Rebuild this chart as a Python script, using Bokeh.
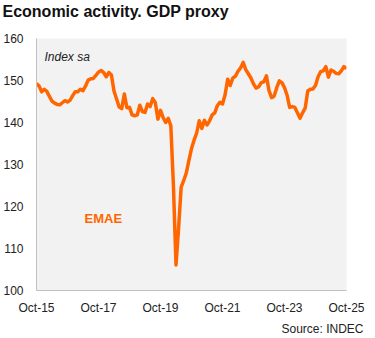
from bokeh.plotting import figure
from bokeh.models import Label, FixedTicker, Range1d, Title
from bokeh.embed import file_html
from bokeh.resources import INLINE

# Monthly EMAE (seasonally adjusted index), Oct-2015 .. Oct-2025
emae = [
    149.3, 148.7, 147.3, 147.9, 147.4, 146.2, 145.1, 144.6, 144.3, 144.2,
    144.7, 145.2, 144.9, 145.3, 146.4, 147.3, 147.3, 147.9, 147.6, 148.7,
    150.1, 150.4, 150.5, 151.2, 152.0, 152.4, 151.9, 150.9, 151.9, 151.3,
    147.5, 145.6, 143.7, 143.3, 146.8, 143.5, 143.6, 141.8, 141.6, 141.8,
    144.1, 142.6, 142.4, 144.4, 143.8, 145.7, 144.7, 140.8, 142.9, 141.2,
    140.0, 141.0, 139.2, 125.0, 106.1, 114.8, 124.6, 126.2, 128.0, 131.0,
    133.8, 135.8, 137.5, 140.4, 138.6, 140.5, 139.4, 140.4, 141.8, 142.3,
    144.0, 144.8, 144.4, 146.6, 150.3, 148.8, 150.6, 151.0, 152.2, 153.0,
    154.3, 152.6, 151.6, 150.6, 149.2, 148.2, 148.5, 149.5, 149.7, 151.1,
    147.6, 145.9, 146.3, 148.3, 149.9, 149.5, 148.3, 146.5, 143.6, 143.8,
    143.6, 142.3, 141.0, 142.3, 143.4, 147.5, 147.9, 148.0, 148.8, 150.9,
    152.1, 152.3, 153.3, 150.8, 152.5, 152.2, 151.7, 151.6, 152.3, 153.3,
    152.8,
]
months = list(range(len(emae)))
x_tick_pos = [0, 24, 48, 72, 96, 120]
x_tick_labels = ["Oct-15", "Oct-17", "Oct-19", "Oct-21", "Oct-23", "Oct-25"]
y_ticks = [100, 110, 120, 130, 140, 150, 160]

W, H = 375, 338
L, R, T, B = 36, 29, 0, 46

p = figure(width=W, height=H, output_backend="svg", toolbar_location=None, title=None,
           x_range=Range1d(0, 120), y_range=Range1d(100, 160),
           min_border_left=L, min_border_right=R, min_border_top=T, min_border_bottom=B)
p.background_fill_color = "#f2f2f2"
p.border_fill_color = "white"
p.outline_line_color = None
p.xgrid.grid_line_color = None
p.ygrid.grid_line_color = None

p.line(months, emae, line_color="#ff6600", line_width=3.5, line_join="round")

axis_color = "#c0c0c0"
for ax in (p.xaxis[0], p.yaxis[0]):
    ax.axis_line_color = axis_color
    ax.major_tick_line_color = None
    ax.minor_tick_line_color = None
    ax.major_tick_out = 0
    ax.major_tick_in = 0
    ax.major_label_text_font = "Liberation Sans"
    ax.major_label_text_font_size = "12px"
    ax.major_label_text_color = "#222222"

p.yaxis[0].ticker = FixedTicker(ticks=y_ticks)
p.yaxis[0].major_label_standoff = 13
p.xaxis[0].ticker = FixedTicker(ticks=x_tick_pos)
p.xaxis[0].major_label_overrides = {k: v for k, v in zip(x_tick_pos, x_tick_labels)}
p.xaxis[0].major_label_standoff = 10

# spacer between frame and title (nearest the frame), then the title above it
p.add_layout(Title(text=" ", text_font_size="1px", standoff=16), "above")
p.add_layout(Title(text="Economic activity. GDP proxy", text_font="Liberation Sans",
                   text_font_size="16px", text_font_style="bold", text_color="#111111",
                   align="left", offset=-34, standoff=0), "above")
p.add_layout(Title(text="Source: INDEC", text_font="Liberation Sans",
                   text_font_size="12px", text_font_style="normal", text_color="#222222",
                   align="right", offset=-17, standoff=5), "below")

frame_bottom = H - B

def lab(text, x, y, size, style="normal", color="#222222", align="left"):
    p.add_layout(Label(x=x - L, y=frame_bottom - y, x_units="screen", y_units="screen",
                       text=text, text_font="Liberation Sans", text_font_size=size,
                       text_font_style=style, text_color=color, text_align=align,
                       text_baseline="alphabetic"))

lab("Index sa", 44, 58, "12px", "italic")
lab("EMAE", 84, 220, "13px", "bold", "#ff6600")

open("out.html", "w").write(file_html(p, INLINE))
